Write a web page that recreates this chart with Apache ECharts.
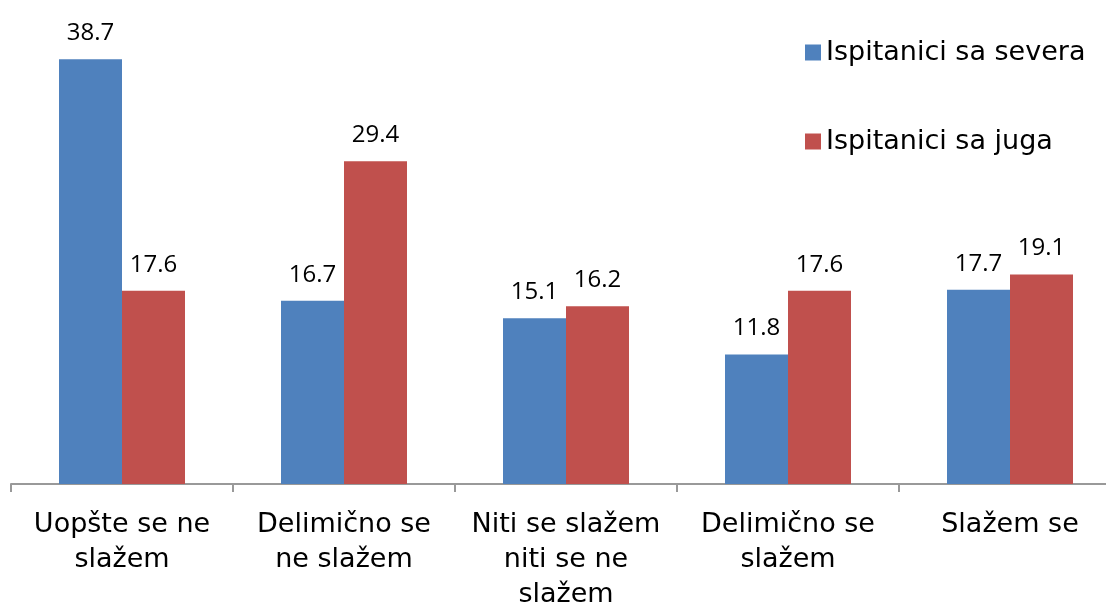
<!DOCTYPE html>
<html>
<head>
    <meta charset="utf-8">
    <title>Stavovi ispitanika</title>
    <script src="https://cdn.jsdelivr.net/npm/echarts@6/dist/echarts.min.js"></script>
    <style>
        html, body { margin: 0; padding: 0; background: #fff; }
        #chart { width: 1106px; height: 606px; }
    </style>
</head>
<body>
<div id="chart"></div>
<script>
    var categories = ['Uopšte se ne\nslažem', 'Delimično se\nne slažem', 'Niti se slažem\nniti se ne\nslažem', 'Delimično se\nslažem', 'Slažem se'];
    var sever = [38.7, 16.7, 15.1, 11.8, 17.7];
    var jug = [17.6, 29.4, 16.2, 17.6, 19.1];
    var seriesNames = ['Ispitanici sa severa', 'Ispitanici sa juga'];

    var myChart = echarts.init(document.getElementById('chart'));

    var labelStyle = {
        show: true,
        position: 'top',
        distance: 14,
        fontFamily: 'Open Sans',
        fontSize: 24,
        color: '#000'
    };

    var option = {
        animation: false,
        legend: {
            orient: 'vertical',
            left: 800,
            top: 34,
            itemWidth: 16,
            itemHeight: 16,
            itemGap: 62,
            icon: 'rect',
            textStyle: { fontFamily: 'DejaVu Sans', fontSize: 27, color: '#000' },
            data: seriesNames
        },
        grid: {
            left: 11, width: 1110, top: 45, bottom: 122,
            containLabel: false, outerBoundsMode: 'none'
        },
        xAxis: {
            type: 'category',
            data: categories,
            axisLine: { lineStyle: { color: '#999', width: 2 } },
            axisTick: { show: true, length: 8, lineStyle: { color: '#999', width: 2 } },
            axisLabel: {
                interval: 0,
                margin: 23,
                fontFamily: 'DejaVu Sans',
                fontSize: 27,
                lineHeight: 35,
                color: '#000'
            }
        },
        yAxis: {
            type: 'value',
            min: 0,
            max: 40,
            show: false
        },
        series: [
            {
                name: seriesNames[0],
                type: 'bar',
                data: sever,
                barWidth: 63,
                barGap: '0%',
                itemStyle: { color: '#4F81BD' },
                label: labelStyle
            },
            {
                name: seriesNames[1],
                type: 'bar',
                data: jug,
                barWidth: 63,
                itemStyle: { color: '#C0504D' },
                label: labelStyle
            }
        ]
    };

    myChart.setOption(option);
</script>
</body>
</html>
